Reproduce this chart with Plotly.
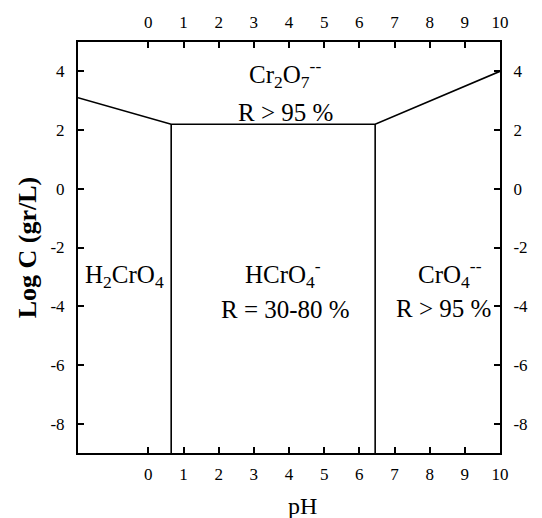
import plotly.graph_objects as go

# Stability-domain boundaries of Cr(VI) species (pH vs log concentration)
boundary_ph = [-2, 0.65, 6.45, 10]
boundary_logc = [3.1, 2.2, 2.2, 4.0]
divider_ph = [0.65, 6.45]
divider_bottom = -9
divider_top = 2.2

ph_ticks = list(range(0, 11))
logc_ticks = [-8, -6, -4, -2, 0, 2, 4]
logc_ticktext = ["-8", "-6", "-4", "-2", "0", "2", "4"]

# Region labels: (text, pH, log C)
region_labels = [
    ("Cr<sub>2</sub>O<sub>7</sub><sup>--</sup>", 3.9, 3.9),
    ("R > 95 %", 3.9, 2.6),
    ("H<sub>2</sub>CrO<sub>4</sub>", -0.68, -3.0),
    ("HCrO<sub>4</sub><sup>-</sup>", 3.82, -2.9),
    ("R = 30-80 %", 3.9, -4.12),
    ("CrO<sub>4</sub><sup>--</sup>", 8.58, -2.9),
    ("R > 95 %", 8.4, -4.08),
]

SERIF = "Liberation Serif, Times New Roman, serif"

fig = go.Figure()

line_style = dict(color="black", width=1.6)
fig.add_trace(go.Scatter(x=boundary_ph, y=boundary_logc, mode="lines",
                         line=line_style, hoverinfo="skip"))
for ph in divider_ph:
    fig.add_trace(go.Scatter(x=[ph, ph], y=[divider_bottom, divider_top], mode="lines",
                             line=line_style, hoverinfo="skip"))
# invisible trace to anchor the mirrored top/right axes
fig.add_trace(go.Scatter(x=[ph_ticks[0]], y=[logc_ticks[0]], xaxis="x2", yaxis="y2",
                         mode="markers", marker=dict(opacity=0), hoverinfo="skip"))

for text, x, y in region_labels:
    fig.add_annotation(x=x, y=y, text=text, showarrow=False,
                       font=dict(family=SERIF, size=25, color="black"),
                       xanchor="center", yanchor="middle")

fig.add_annotation(xref="paper", yref="paper", x=0.533, y=-0.13, text="pH",
                   showarrow=False, font=dict(family=SERIF, size=24, color="black"),
                   xanchor="center", yanchor="middle")

axis_common = dict(
    showgrid=False, zeroline=False, showline=True, linecolor="black", linewidth=2,
    ticks="inside", ticklen=6, tickwidth=1.5, tickcolor="black",
    tickfont=dict(family=SERIF, size=17, color="black"),
)

fig.update_layout(
    width=542, height=518,
    margin=dict(l=78, r=42, t=42, b=65),
    paper_bgcolor="white", plot_bgcolor="white",
    showlegend=False,
    xaxis=dict(range=[-2, 10], tickvals=ph_ticks, side="bottom",
               ticklabelstandoff=5, **axis_common),
    xaxis2=dict(range=[-2, 10], tickvals=ph_ticks, side="top", overlaying="x",
                anchor="y", ticklabelstandoff=5, **axis_common),
    yaxis=dict(range=[-9, 5], tickvals=logc_ticks, ticktext=logc_ticktext, side="left",
               ticklabelstandoff=8,
               title=dict(text="<b>Log C (gr/L)</b>", standoff=6,
                          font=dict(family=SERIF, size=26, color="black")),
               **axis_common),
    yaxis2=dict(range=[-9, 5], tickvals=logc_ticks, ticktext=logc_ticktext, side="right",
                overlaying="y", anchor="x", ticklabelstandoff=8, **axis_common),
)

fig.write_html("out.html")
